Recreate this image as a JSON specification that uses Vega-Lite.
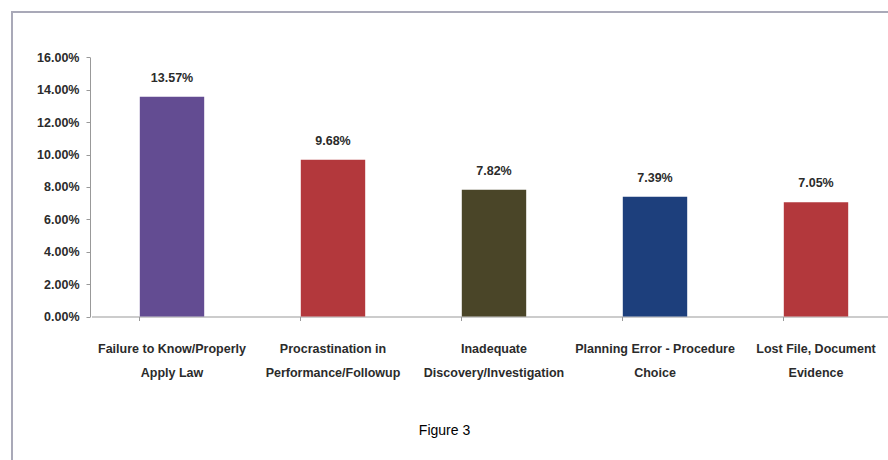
{
  "$schema": "https://vega.github.io/schema/vega-lite/v6.json",
  "autosize": "none",
  "width": 876,
  "height": 448,
  "padding": {"left": 12, "top": 12, "right": 0, "bottom": 0},
  "background": "white",
  "config": {
    "view": {"stroke": "#a9a9b8", "strokeWidth": 2, "strokeDash": [876, 1324, 448]},
    "font": "Liberation Sans"
  },
  "data": {
    "values": [
      {"cause": "Failure to Know/Properly|Apply Law", "value": 0.1357},
      {"cause": "Procrastination in|Performance/Followup", "value": 0.0968},
      {"cause": "Inadequate|Discovery/Investigation", "value": 0.0782},
      {"cause": "Planning Error - Procedure|Choice", "value": 0.0739},
      {"cause": "Lost File, Document|Evidence", "value": 0.0705}
    ]
  },
  "encoding": {
    "x": {
      "field": "cause",
      "type": "nominal",
      "sort": null,
      "scale": {"range": [79.5, 884.5], "paddingInner": 0.6, "paddingOuter": 0.3},
      "axis": {
        "title": "Figure 3",
        "titleFont": "Liberation Sans",
        "titleFontSize": 14,
        "titleFontWeight": "normal",
        "titleColor": "#000000",
        "titleX": 432,
        "titleY": 113.5,
        "titleBaseline": "middle",
        "titleAlign": "center",
        "offset": -143.5,
        "labelAngle": 0,
        "labelExpr": "split(datum.label, '|')",
        "labelFont": "Liberation Sans",
        "labelFontSize": 12.5,
        "labelFontWeight": "bold",
        "labelColor": "#2b2b2b",
        "labelLineHeight": 24,
        "labelPadding": 22,
        "labelLimit": 0,
        "bandPosition": 0,
        "tickSize": 4,
        "tickColor": "#999999",
        "domainColor": "#999999",
        "grid": false
      }
    },
    "y": {
      "field": "value",
      "type": "quantitative",
      "scale": {"domain": [0, 0.16], "range": [304.5, 45.3], "nice": false, "zero": true},
      "axis": {
        "title": null,
        "offset": -78,
        "values": [0, 0.02, 0.04, 0.06, 0.08, 0.1, 0.12, 0.14, 0.16],
        "format": ".2%",
        "labelFont": "Liberation Sans",
        "labelFontSize": 12.5,
        "labelFontWeight": "bold",
        "labelColor": "#2b2b2b",
        "labelPadding": 7,
        "tickSize": 4,
        "tickColor": "#999999",
        "domainColor": "#999999",
        "grid": false
      }
    }
  },
  "layer": [
    {
      "mark": {"type": "bar"},
      "encoding": {
        "color": {
          "field": "cause",
          "type": "nominal",
          "legend": null,
          "scale": {
            "domain": [
              "Failure to Know/Properly|Apply Law",
              "Procrastination in|Performance/Followup",
              "Inadequate|Discovery/Investigation",
              "Planning Error - Procedure|Choice",
              "Lost File, Document|Evidence"
            ],
            "range": ["#634c92", "#b3383c", "#4a4528", "#1d3f7c", "#b3383c"]
          }
        }
      }
    },
    {
      "mark": {
        "type": "text",
        "dy": -19,
        "baseline": "middle",
        "font": "Liberation Sans",
        "fontSize": 12.5,
        "fontWeight": "bold",
        "color": "#2b2b2b"
      },
      "encoding": {
        "text": {"field": "value", "type": "quantitative", "format": ".2%"}
      }
    }
  ]
}
